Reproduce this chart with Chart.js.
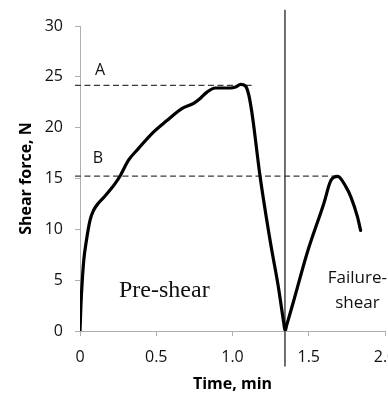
<!DOCTYPE html>
<html>
<head>
<meta charset="utf-8">
<script src="https://cdn.jsdelivr.net/npm/chart.js@4.4.1/dist/chart.umd.min.js"></script>
<style>
  html, body { margin: 0; padding: 0; background: #fff; }
  #wrap { width: 388px; height: 394px; position: relative; }
</style>
</head>
<body>
<div id="wrap"><canvas id="c" width="388" height="394"></canvas></div>
<script>
// ---- data ----
const timeMin = [0, 0.006, 0.015, 0.025, 0.04, 0.066, 0.09, 0.12, 0.16, 0.197, 0.23, 0.263, 0.318, 0.384, 0.47, 0.57, 0.67, 0.745, 0.79, 0.833, 0.888, 0.987, 1.02, 1.053, 1.085, 1.107, 1.13, 1.18, 1.25, 1.30, 1.335, 1.345, 1.355, 1.40, 1.49, 1.6, 1.645, 1.69, 1.743, 1.776, 1.82, 1.84];
const shearForce = [0, 2.5, 5.0, 7.0, 8.7, 10.9, 11.9, 12.56, 13.2, 13.86, 14.5, 15.25, 16.8, 17.96, 19.4, 20.7, 21.9, 22.4, 22.9, 23.5, 23.9, 23.9, 24.0, 24.25, 24.1, 23.2, 21.2, 15.3, 8.6, 4.4, 0.9, 0, 0.55, 2.9, 7.7, 12.6, 14.8, 15.2, 14.2, 13.2, 11.2, 9.9];

const refLabels = ["A", "B"];
const refLevels = [24.16, 15.24];          // N
const refStart = -0.033;                   // min
const refEnds = [1.125, 1.68];             // min
const refLabelPos = [[0.132, 25.6], [0.118, 16.95]];

const dividerTime = 1.344;                 // min
const dividerSpan = [31.6, -3.5];          // N

const xTicks = [0, 0.5, 1, 1.5, 2];
const yTicks = [0, 5, 10, 15, 20, 25, 30];

const xTitle = "Time, min";
const yTitle = "Shear force, N";
const phaseLabels = [
  { lines: ["Pre-shear"], x: 0.553, y: [3.34], serif: true },
  { lines: ["Failure-", "shear"], x: 1.819, y: [4.72, 2.26], serif: false }
];

// ---- build datasets ----
const curve = timeMin.map((t, i) => ({ x: t, y: shearForce[i] }));
const refSets = refLevels.map((lv, i) => ({
  data: [{ x: refStart, y: lv }, { x: refEnds[i], y: lv }],
  borderColor: '#3a3a3a', borderWidth: 1.3, borderDash: [6, 3.5],
  pointRadius: 0, tension: 0, clip: false, order: 2
}));

const textPlugin = {
  id: 'textPlugin',
  afterDatasetsDraw(chart) {
    const { ctx, scales: { x, y } } = chart;
    ctx.save();
    ctx.fillStyle = '#111';
    ctx.textAlign = 'center';
    ctx.textBaseline = 'middle';
    ctx.font = '16px "Open Sans"';
    refLabels.forEach((s, i) => {
      ctx.fillText(s, x.getPixelForValue(refLabelPos[i][0]), y.getPixelForValue(refLabelPos[i][1]));
    });
    ctx.textBaseline = 'alphabetic';
    phaseLabels.forEach(p => {
      ctx.font = p.serif ? '24px "Liberation Serif"' : '17px "Open Sans"';
      p.lines.forEach((ln, j) => {
        ctx.fillText(ln, x.getPixelForValue(p.x), y.getPixelForValue(p.y[j]));
      });
    });
    ctx.restore();
  }
};

new Chart(document.getElementById('c'), {
  type: 'line',
  data: {
    datasets: [
      { data: curve, borderColor: '#000', borderWidth: 3.2, pointRadius: 0, cubicInterpolationMode: 'monotone', fill: false, order: 1, borderJoinStyle: 'round', borderCapStyle: 'round' },
      ...refSets,
      { data: [{ x: dividerTime, y: dividerSpan[0] }, { x: dividerTime, y: dividerSpan[1] }],
        borderColor: '#333', borderWidth: 1.4, pointRadius: 0, tension: 0, clip: false, order: 3 }
    ]
  },
  options: {
    responsive: false,
    animation: false,
    devicePixelRatio: 1,
    layout: { padding: { left: 0, right: 3, top: 26, bottom: 0 } },
    plugins: { legend: { display: false }, tooltip: { enabled: false } },
    scales: {
      x: {
        type: 'linear', min: 0, max: 2,
        afterBuildTicks: s => { s.ticks = xTicks.map(v => ({ value: v })); },
        afterFit: s => { s.height = 63; s.paddingRight = 0; s.paddingLeft = 0; },
        grid: { drawOnChartArea: false, drawTicks: true, tickLength: 5, color: '#b0b0b0' },
        border: { color: '#b0b0b0', width: 1 },
        ticks: { color: '#111', font: { family: 'Open Sans', size: 16 }, padding: 12, maxRotation: 0 },
        title: { display: true, text: xTitle, color: '#000', font: { family: 'Open Sans', size: 16, weight: 'bold' }, padding: { top: 0, bottom: 0 } }
      },
      y: {
        type: 'linear', min: 0, max: 30,
        afterBuildTicks: s => { s.ticks = yTicks.map(v => ({ value: v })); },
        afterFit: s => { s.width = 80; s.paddingTop = 0; s.paddingBottom = 0; },
        grid: { drawOnChartArea: false, drawTicks: true, tickLength: 5, color: '#b0b0b0' },
        border: { color: '#b0b0b0', width: 1 },
        ticks: { color: '#111', font: { family: 'Open Sans', size: 16 }, padding: 12 },
        title: { display: true, text: yTitle, color: '#000', font: { family: 'Open Sans', size: 16, weight: 'bold' }, padding: { top: 17, bottom: 0 } }
      }
    }
  },
  plugins: [textPlugin]
});
</script>
</body>
</html>
